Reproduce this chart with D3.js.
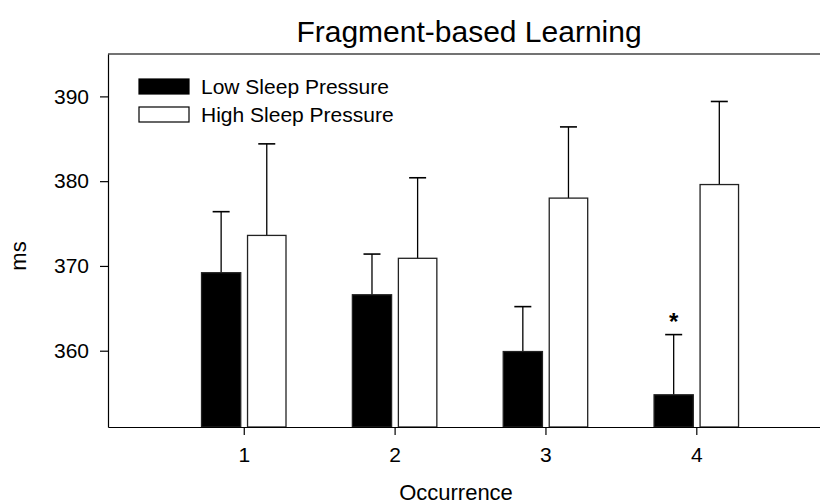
<!DOCTYPE html>
<html>
<head>
<meta charset="utf-8">
<script src="https://cdn.jsdelivr.net/npm/d3@7"></script>
<style>
  body { margin: 0; background: #fff; }
  svg { font-family: Arial, "Liberation Sans", sans-serif; }
  .yAxis text, .xAxis text { font-size: 21px; fill: #000; }
  .yAxis path, .yAxis line, .xAxis path, .xAxis line { stroke: #000; stroke-width: 1.2; }
</style>
</head>
<body>
<div class="container"></div>
<script>
const WIDTH = 820;
const HEIGHT = 504;
const LEFT = 108;
const TOP = 54;
const BOTTOM = 427;

const occurrences = [1, 2, 3, 4];
const lowPressure = [369.2, 366.6, 359.9, 354.8];
const lowPressureErr = [7.2, 4.8, 5.3, 7.1];
const highPressure = [373.6, 370.9, 378.0, 379.6];
const highPressureErr = [10.8, 9.5, 8.4, 9.8];
const yTicks = [360, 370, 380, 390];
const seriesNames = ['Low Sleep Pressure', 'High Sleep Pressure'];
const significant = [4];

var translate = function (x, y) {
  return 'translate(' + x + ',' + y + ')';
};

var svg = d3.select('.container').append('svg')
  .attr('width', WIDTH)
  .attr('height', HEIGHT);

var x = d3.scaleLinear().domain([0.1, 4.82]).range([LEFT, WIDTH]);
var y = d3.scaleLinear().domain([351, 395]).range([BOTTOM, TOP]);

// top frame line
svg.append('line')
  .attr('x1', LEFT).attr('x2', WIDTH)
  .attr('y1', TOP).attr('y2', TOP)
  .attr('stroke', '#444').attr('stroke-width', 1.6);

var series = [
  { name: seriesNames[0], values: lowPressure, err: lowPressureErr, fill: '#000', off: [-0.28, -0.02] },
  { name: seriesNames[1], values: highPressure, err: highPressureErr, fill: '#fff', off: [0.025, 0.28] }
];

series.forEach(function (s) {
  var g = svg.append('g');
  var mid = (s.off[0] + s.off[1]) / 2;
  var rows = occurrences.map(function (c, i) {
    return { c: c, v: s.values[i], e: s.err[i] };
  });

  // error bars (upper only)
  g.selectAll('line.err')
    .data(rows)
    .enter().append('line')
    .classed('err', true)
    .attr('x1', function (d) { return x(d.c + mid); })
    .attr('x2', function (d) { return x(d.c + mid); })
    .attr('y1', function (d) { return y(d.v); })
    .attr('y2', function (d) { return y(d.v + d.e); })
    .attr('stroke', '#000').attr('stroke-width', 1.3);

  g.selectAll('line.cap')
    .data(rows)
    .enter().append('line')
    .classed('cap', true)
    .attr('x1', function (d) { return x(d.c + mid) - 8.5; })
    .attr('x2', function (d) { return x(d.c + mid) + 8.5; })
    .attr('y1', function (d) { return y(d.v + d.e); })
    .attr('y2', function (d) { return y(d.v + d.e); })
    .attr('stroke', '#000').attr('stroke-width', 1.6);

  g.selectAll('rect')
    .data(rows)
    .enter().append('rect')
    .attr('x', function (d) { return x(d.c + s.off[0]); })
    .attr('width', function (d) { return x(d.c + s.off[1]) - x(d.c + s.off[0]); })
    .attr('y', function (d) { return y(d.v); })
    .attr('height', function (d) { return BOTTOM - y(d.v); })
    .attr('fill', s.fill)
    .attr('stroke', '#222').attr('stroke-width', 1.3);
});

// significance marks
svg.selectAll('text.sig')
  .data(significant)
  .enter().append('text')
  .classed('sig', true)
  .attr('x', function (c) { return x(c - 0.15); })
  .attr('y', function (c) { return y(lowPressure[c - 1] + lowPressureErr[c - 1]) - 5; })
  .attr('text-anchor', 'middle')
  .style('font-size', '24px').style('font-weight', 'bold')
  .text('*');

svg.append('g')
  .attr('transform', translate(0, BOTTOM))
  .call(d3.axisBottom(x).tickValues(occurrences).tickFormat(d3.format('d'))
    .tickSizeInner(8).tickSizeOuter(0).tickPadding(12))
  .classed('xAxis', true);

svg.append('g')
  .attr('transform', translate(LEFT, 0))
  .call(d3.axisLeft(y).tickValues(yTicks).tickFormat(d3.format('d'))
    .tickSizeInner(8).tickSizeOuter(0).tickPadding(11))
  .classed('yAxis', true);

// titles
svg.append('text')
  .attr('x', 469).attr('y', 42)
  .attr('text-anchor', 'middle')
  .style('font-size', '30px')
  .text('Fragment-based Learning');

svg.append('text')
  .attr('x', 456).attr('y', 500)
  .attr('text-anchor', 'middle')
  .style('font-size', '22px')
  .text('Occurrence');

svg.append('text')
  .attr('transform', translate(26, 256) + ' rotate(-90)')
  .attr('text-anchor', 'middle')
  .style('font-size', '22px')
  .text('ms');

// legend
var legend = svg.append('g').attr('transform', translate(139, 79));
series.forEach(function (s, i) {
  legend.append('rect')
    .attr('x', 0).attr('y', i * 28)
    .attr('width', 50).attr('height', 15)
    .attr('fill', s.fill).attr('stroke', '#000').attr('stroke-width', 1.2);
  legend.append('text')
    .attr('x', 62).attr('y', i * 28 + 15)
    .style('font-size', '21px')
    .text(s.name);
});
</script>
</body>
</html>
